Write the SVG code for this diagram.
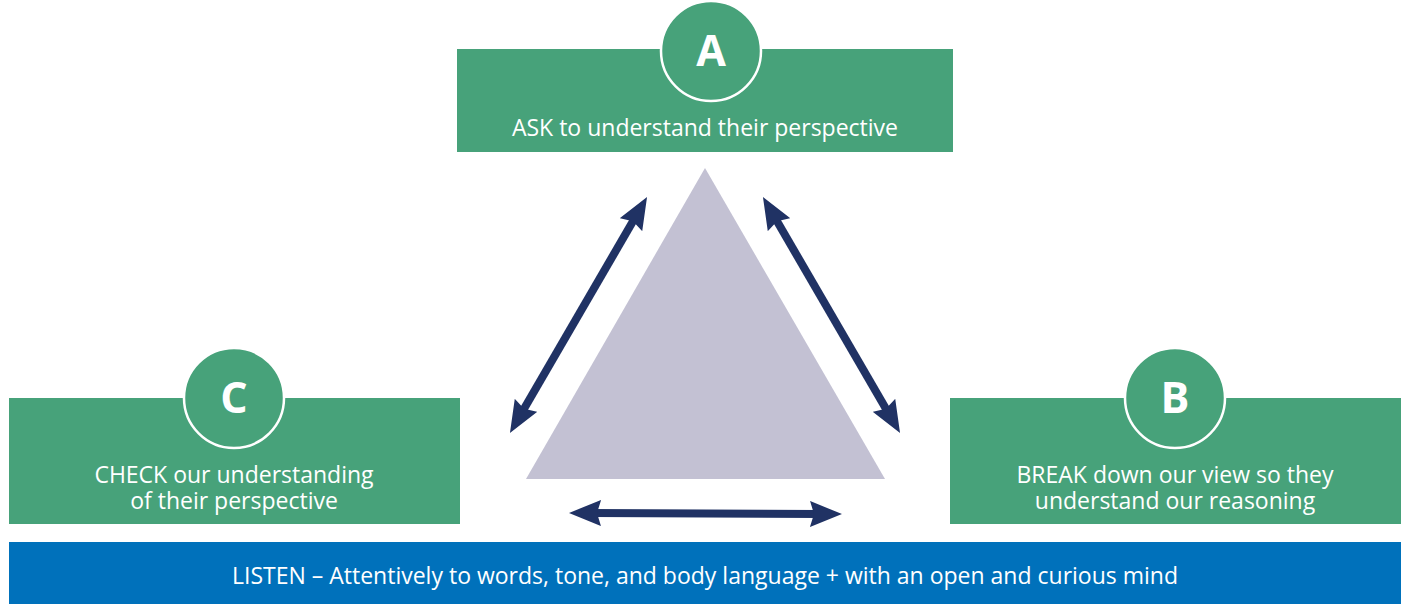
<svg xmlns="http://www.w3.org/2000/svg" width="1407" height="604" viewBox="0 0 1407 604">
<style>
.box{fill:#47A27A}
.circ{fill:#47A27A;stroke:#FFFFFF;stroke-width:2.5}
.letter{font-family:"Open Sans","Liberation Sans",sans-serif;font-weight:bold;font-size:43px;fill:#FFFFFF;text-anchor:middle}
.lbl{font-family:"Open Sans","Liberation Sans",sans-serif;font-size:23px;fill:#FFFFFF;text-anchor:middle}
.arr{stroke:#203264;stroke-width:8;fill:none;marker-start:url(#ah);marker-end:url(#ah)}
</style>
<defs>
<marker id="ah" markerUnits="userSpaceOnUse" viewBox="0 0 32 26" refX="10" refY="13" markerWidth="32" markerHeight="26" orient="auto-start-reverse">
<path d="M0,0 L32,13 L0,26 L4,13 z" fill="#203264"/>
</marker>
</defs>
<rect width="1407" height="604" fill="#FFFFFF"/>
<polygon id="triangle" points="705,168 526,479 885,479" fill="#C3C1D3"/>
<g id="connectors">
<line class="arr" x1="521" y1="414" x2="636" y2="216"/>
<line class="arr" x1="774" y1="216" x2="889" y2="414"/>
<line class="arr" x1="591" y1="513" x2="820" y2="514"/>
</g>
<g id="nodeA">
<rect class="box" x="457" y="49" width="496" height="103"/>
<circle class="circ" cx="711" cy="51" r="50"/>
<text class="letter" x="711" y="66">A</text>
<text class="lbl" x="705" y="136">ASK to understand their perspective</text>
</g>
<g id="nodeC">
<rect class="box" x="9" y="398" width="451" height="126"/>
<circle class="circ" cx="234" cy="398" r="50"/>
<text class="letter" x="234" y="413">C</text>
<text class="lbl" x="234" y="483">CHECK our understanding</text>
<text class="lbl" x="234" y="509">of their perspective</text>
</g>
<g id="nodeB">
<rect class="box" x="950" y="398" width="451" height="126"/>
<circle class="circ" cx="1175" cy="398" r="50"/>
<text class="letter" x="1175" y="413">B</text>
<text class="lbl" x="1175" y="483">BREAK down our view so they</text>
<text class="lbl" x="1175" y="509">understand our reasoning</text>
</g>
<g id="listen">
<rect x="9" y="542" width="1392" height="62" fill="#0071BB"/>
<text class="lbl" x="705" y="584">LISTEN – Attentively to words, tone, and body language + with an open and curious mind</text>
</g>
</svg>
